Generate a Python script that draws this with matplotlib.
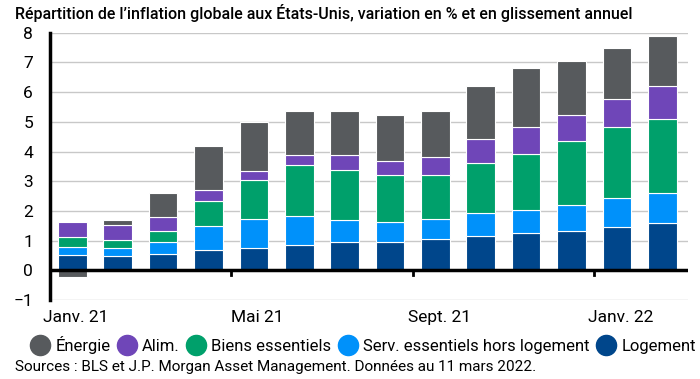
import matplotlib
matplotlib.use('Agg')
from matplotlib import pyplot as plt
from matplotlib.lines import Line2D
import numpy as np

# data (contribution in points, y/y)
mois = ['Janv. 21', 'Févr. 21', 'Mars 21', 'Avr. 21', 'Mai 21', 'Juin 21', 'Juil. 21',
        'Août 21', 'Sept. 21', 'Oct. 21', 'Nov. 21', 'Déc. 21', 'Janv. 22', 'Févr. 22']
logement = [0.50, 0.47, 0.54, 0.68, 0.74, 0.84, 0.94, 0.94, 1.04, 1.14, 1.24, 1.34, 1.46, 1.59]
serv = [0.27, 0.27, 0.40, 0.80, 0.99, 0.98, 0.75, 0.68, 0.69, 0.79, 0.78, 0.86, 0.97, 1.01]
biens = [0.34, 0.28, 0.37, 0.87, 1.30, 1.74, 1.70, 1.58, 1.47, 1.70, 1.91, 2.14, 2.38, 2.51]
alim = [0.50, 0.49, 0.47, 0.34, 0.30, 0.34, 0.51, 0.49, 0.63, 0.78, 0.89, 0.90, 0.97, 1.11]
energie = [-0.24, 0.17, 0.84, 1.48, 1.68, 1.48, 1.48, 1.53, 1.55, 1.80, 1.99, 1.81, 1.70, 1.67]

noms = ['Énergie', 'Alim.', 'Biens essentiels', 'Serv. essentiels hors logement', 'Logement']
couleurs = ['#575a5d', '#6f46b8', '#00a06b', '#0091fa', '#00468b']

plt.rcParams['font.family'] = ['Roboto', 'DejaVu Sans']

fig = plt.figure(figsize=(7, 3.79), dpi=100)
ax = fig.add_axes([0.071, 0.2085, 0.912, 0.705])

x = np.arange(len(mois))
w = 0.63
series = [logement, serv, biens, alim, energie]
cols = couleurs[::-1]
pos = np.zeros(len(mois))
neg = np.zeros(len(mois))
for vals, c in zip(series, cols):
    v = np.array(vals)
    bottom = np.where(v >= 0, pos, neg)
    ax.bar(x, v, w, bottom=bottom, color=c, edgecolor='white', linewidth=0.8, zorder=3)
    pos = pos + np.where(v >= 0, v, 0)
    neg = neg + np.where(v < 0, v, 0)

ax.set_ylim(-1, 8)
ax.set_xlim(-0.5, 13.57)
ax.set_yticks(range(-1, 9))
ax.yaxis.grid(True, color='#c8c8c8', linewidth=1, zorder=0)
ax.axhline(0, color='black', linewidth=2.5, zorder=4)
for s in ['top', 'right', 'bottom']:
    ax.spines[s].set_visible(False)
ax.spines['left'].set_linewidth(2.5)
ax.tick_params(axis='y', length=0, labelsize=12.5, pad=12)

lab_idx = [0, 4, 8, 12]
ax.set_xticks([i + 0.08 for i in lab_idx])
ax.set_xticklabels([mois[i] for i in lab_idx], fontsize=12.5)
ax.tick_params(axis='x', length=0, pad=7)
for t in [3.5, 7.5, 11.5]:
    ax.plot([t, t], [0, -0.15], color='black', linewidth=2, zorder=4, clip_on=False)

fig.text(0.021, 0.967, "Répartition de l\u2019inflation globale aux États-Unis, variation en % et en glissement annuel",
         fontsize=11.5, fontweight='medium', va='center', ha='left')

handles = [Line2D([], [], marker='o', linestyle='', markersize=14.5, color=c) for c in couleurs]
fig.legend(handles, noms, loc='center', bbox_to_anchor=(0.518, 0.09), ncol=5, frameon=False,
           fontsize=12, handletextpad=0.25, columnspacing=0.35, borderaxespad=0, handlelength=1.3)

fig.text(0.021, 0.032, "Sources : BLS et J.P. Morgan Asset Management. Données au 11 mars 2022.",
         fontsize=11, va='center', ha='left')

fig.savefig('out.png', dpi=100)
